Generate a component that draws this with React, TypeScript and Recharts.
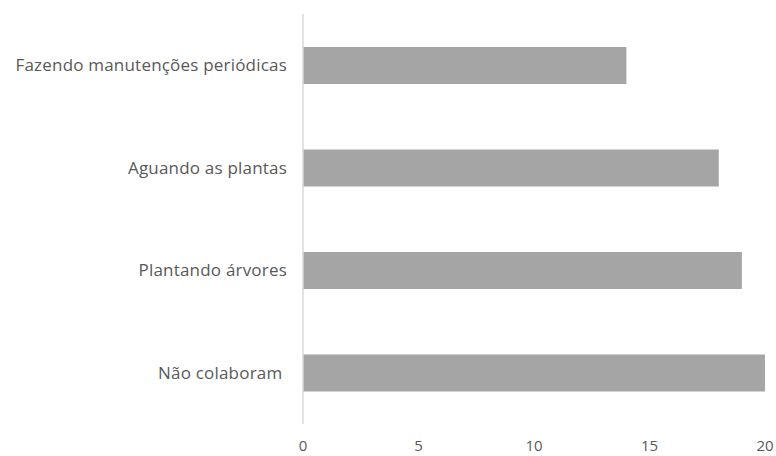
import { Bar, BarChart, XAxis, YAxis } from 'recharts'

const categories = [
  'Fazendo manutenções periódicas',
  'Aguando as plantas',
  'Plantando árvores',
  'Não colaboram\u00a0',
]
const values = [14, 18, 19, 20]
const xTicks = [0, 5, 10, 15, 20]

const data = categories.map((name, i) => ({ name, value: values[i] }))

const font = '"Open Sans", sans-serif'
const yTickStyle = { fontSize: 17, fill: '#595959', fontFamily: font, letterSpacing: 0.2 }
const xTickStyle = { fontSize: 15, fill: '#595959', fontFamily: font }

export default function App() {
  return (
    <div style={{ position: 'absolute', left: 0, top: 0, width: 776, height: 456, background: '#fff' }}>
      <BarChart
        width={776}
        height={456}
        data={data}
        layout="vertical"
        margin={{ top: 14, right: 11, bottom: 2, left: 0 }}
      >
        <XAxis
          type="number"
          domain={[0, 20]}
          ticks={xTicks}
          axisLine={false}
          tickLine={false}
          tickMargin={10}
          height={30}
          tick={xTickStyle}
        />
        <YAxis
          type="category"
          dataKey="name"
          width={303}
          tickLine={false}
          axisLine={{ stroke: '#d9d9d9', strokeWidth: 1.5 }}
          tickMargin={10}
          tick={yTickStyle}
        />
        <Bar dataKey="value" fill="#a5a5a5" barSize={37} isAnimationActive={false} />
      </BarChart>
    </div>
  )
}
